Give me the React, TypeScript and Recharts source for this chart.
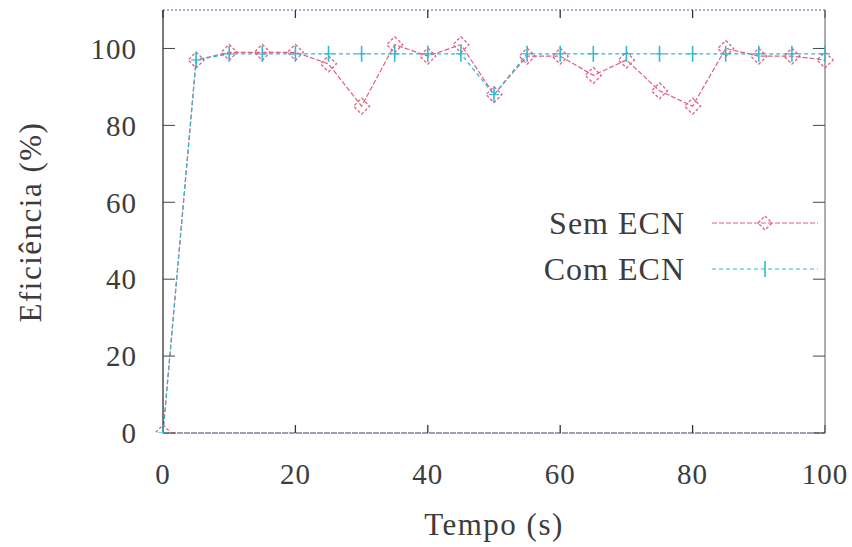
import React from 'react';
import { LineChart, Line, XAxis, YAxis, Legend } from 'recharts';

const time = [0, 5, 10, 15, 20, 25, 30, 35, 40, 45, 50, 55, 60, 65, 70, 75, 80, 85, 90, 95, 100];
const semECN = [0, 97, 99, 99, 99, 96, 85, 101, 98, 101, 88, 98, 98, 93, 97, 89, 85, 100, 98, 98, 97];
const comECN = [0, 97, 98.6, 98.6, 98.6, 98.6, 98.6, 98.6, 98.6, 98.6, 88, 98.6, 98.6, 98.6, 98.6, 98.6, 98.6, 98.6, 98.6, 98.6, 98.6];
const xTicks = [0, 20, 40, 60, 80, 100];
const yTicks = [0, 20, 40, 60, 80, 100];
const seriesNames = ['Sem ECN', 'Com ECN'];

const data = time.map((t, i) => ({ t, sem: semECN[i], com: comECN[i] }));

const FONT = '"Liberation Serif", "DejaVu Serif", serif';
const TEXT = '#3c3c3c';
const RED = '#e06080';
const CYAN = '#34b8d2';

const diamondPath = (cx: number, cy: number, r: number) =>
  `M${cx},${cy - r}L${cx + r},${cy}L${cx},${cy + r}L${cx - r},${cy}Z`;

const DiamondDot = (props: any) => {
  const { cx, cy, index } = props;
  if (cx == null || cy == null) return <g key={`dd-${index}`} />;
  return (
    <path
      key={`dd-${index}`}
      d={diamondPath(cx, cy, 8)}
      fill="none"
      stroke={RED}
      strokeWidth={1.3}
      strokeDasharray="3 2"
    />
  );
};

const PlusDot = (props: any) => {
  const { cx, cy, index } = props;
  if (cx == null || cy == null) return <g key={`pd-${index}`} />;
  return (
    <g key={`pd-${index}`}>
      <line x1={cx} y1={cy - 8} x2={cx} y2={cy + 8} stroke={CYAN} strokeWidth={1.6} />
      <line x1={cx - 5} y1={cy} x2={cx + 5} y2={cy} stroke={CYAN} strokeWidth={1.2} />
    </g>
  );
};

const legendContent = () => (
  <div style={{ fontFamily: FONT, fontSize: 32, color: TEXT, letterSpacing: 1 }}>
    {seriesNames.map((name, i) => (
      <div key={name} style={{ display: 'flex', alignItems: 'center', height: 46 }}>
        <span style={{ width: 165, textAlign: 'right', whiteSpace: 'nowrap' }}>{name}</span>
        <svg width={106} height={20} style={{ marginLeft: 27 }}>
          {i === 0 ? (
            <g>
              <line x1={0} y1={10} x2={106} y2={10} stroke={RED} strokeWidth={1.2} strokeDasharray="5 2" />
              <path d={diamondPath(53, 10, 7)} fill="none" stroke={RED} strokeWidth={1.3} strokeDasharray="3 2" />
            </g>
          ) : (
            <g>
              <line x1={0} y1={10} x2={106} y2={10} stroke={CYAN} strokeWidth={1.2} strokeDasharray="4 3" />
              <line x1={53} y1={2} x2={53} y2={18} stroke={CYAN} strokeWidth={1.6} />
            </g>
          )}
        </svg>
      </div>
    ))}
  </div>
);

const emptyTick = () => <g />;

export default function App() {
  return (
    <div style={{ position: 'absolute', left: 0, top: 0, background: '#fff' }}>
      <LineChart width={852} height={547} data={data} margin={{ top: 9, right: 26, bottom: 0, left: 0 }}>
        <XAxis
          dataKey="t"
          type="number"
          domain={[0, 100]}
          ticks={xTicks}
          height={114}
          tickSize={-8}
          tickMargin={38}
          axisLine={{ stroke: '#3a4466', strokeWidth: 1.2, strokeDasharray: '6 1' }}
          tickLine={{ stroke: '#333', strokeWidth: 1.3 }}
          tick={{ fontFamily: FONT, fontSize: 29, fill: TEXT, letterSpacing: 1 }}
          label={{ value: 'Tempo (s)', position: 'insideBottom', offset: 12, fontFamily: FONT, fontSize: 31, fill: TEXT, letterSpacing: 1.5 } as any}
        />
        <XAxis
          xAxisId="top"
          dataKey="t"
          type="number"
          orientation="top"
          domain={[0, 100]}
          ticks={xTicks}
          height={1}
          tickSize={-8}
          axisLine={{ stroke: '#4a62b0', strokeWidth: 1.2, strokeDasharray: '2 2' }}
          tickLine={{ stroke: '#333', strokeWidth: 1.3 }}
          tick={emptyTick}
        />
        <YAxis
          type="number"
          domain={[0, 110]}
          ticks={yTicks}
          width={163}
          tickSize={-12}
          tickMargin={38}
          allowDataOverflow
          axisLine={{ stroke: '#333', strokeWidth: 1.3 }}
          tickLine={{ stroke: '#444', strokeWidth: 1 }}
          tick={{ fontFamily: FONT, fontSize: 29, fill: TEXT, letterSpacing: 1 }}
          label={{
            content: () => (
              <text
                x={30}
                y={222}
                transform="rotate(-90, 30, 222)"
                textAnchor="middle"
                dominantBaseline="central"
                fontFamily={FONT}
                fontSize={31}
                fill={TEXT}
                letterSpacing={1.5}
              >
                Eficiência (%)
              </text>
            ),
          } as any}
        />
        <YAxis
          yAxisId="right"
          type="number"
          orientation="right"
          domain={[0, 110]}
          ticks={yTicks}
          width={1}
          tickSize={-12}
          allowDataOverflow
          axisLine={{ stroke: '#777', strokeWidth: 1.2 }}
          tickLine={{ stroke: '#444', strokeWidth: 1 }}
          tick={emptyTick}
        />
        <Legend
          layout="horizontal"
          verticalAlign="middle"
          align="center"
          content={legendContent}
          wrapperStyle={{ position: 'absolute', left: 520, top: 200, width: 320 }}
        />
        <Line
          type="linear"
          dataKey="sem"
          name="Sem ECN"
          stroke={RED}
          strokeWidth={1.2}
          strokeDasharray="5 2"
          dot={DiamondDot}
          activeDot={false}
          isAnimationActive={false}
        />
        <Line
          type="linear"
          dataKey="com"
          name="Com ECN"
          stroke={CYAN}
          strokeWidth={1.3}
          strokeDasharray="4 3"
          dot={PlusDot}
          activeDot={false}
          isAnimationActive={false}
        />
      </LineChart>
    </div>
  );
}
